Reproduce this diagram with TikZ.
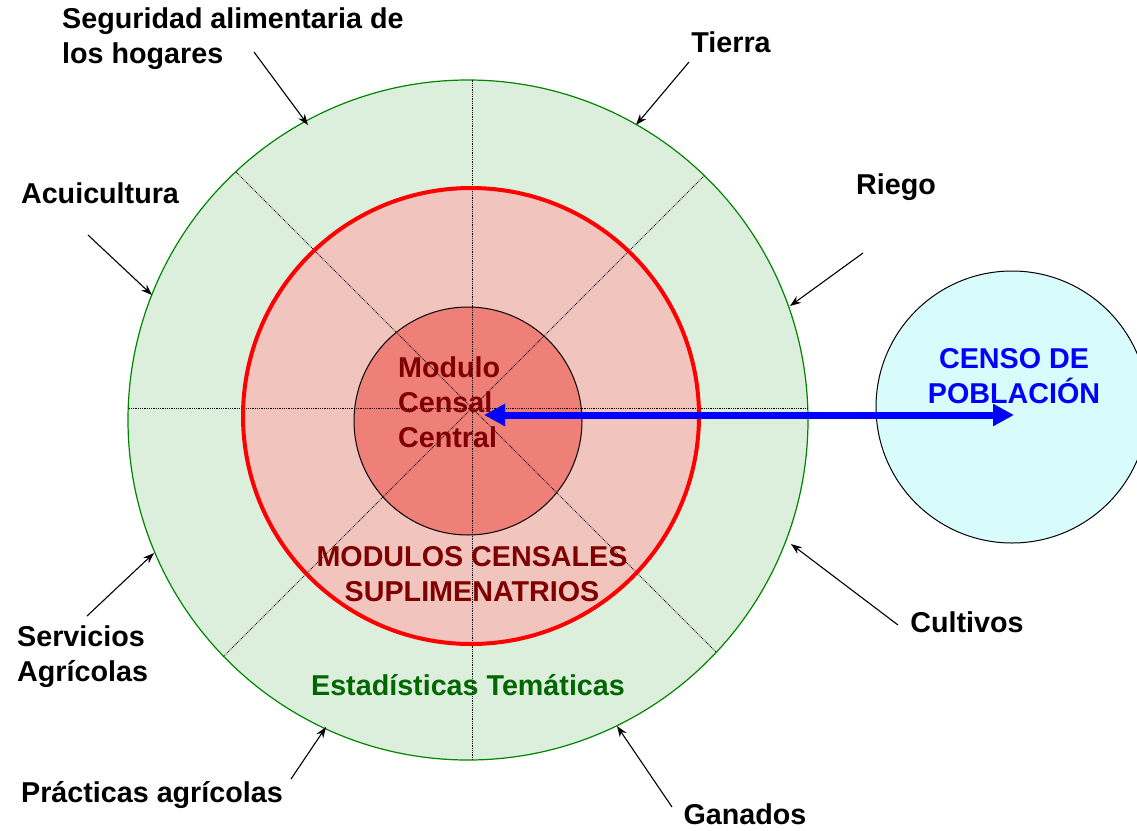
\documentclass[tikz,border=0pt]{standalone}
\usepackage{fontspec}
\setmainfont{Liberation Sans}
\usepackage{tikz}
\usetikzlibrary{arrows.meta}

\definecolor{tema}{HTML}{DCEEDC}
\definecolor{suple}{HTML}{F2C4BE}
\definecolor{central}{HTML}{EE8078}
\definecolor{censo}{HTML}{D8FCFC}
\definecolor{granate}{HTML}{800000}
\definecolor{verde}{HTML}{006600}

\tikzset{
  lbl/.style={font=\fontsize{28.7}{35}\selectfont\bfseries, inner sep=0pt},
  ptr/.style={-{Stealth[length=11pt,width=8pt]}, line width=1.1pt},
  spoke/.style={densely dotted, line width=0.8pt},
  ring/.style={circle, inner sep=0pt, outer sep=0pt}
}

\begin{document}
\begin{tikzpicture}[x=1pt,y=-1pt]

\clip (0,0) rectangle (1137,830);

% circles
\node[ring, fill=tema, draw=verde!80!green, line width=1.2pt, minimum size=680pt] (outer) at (468,420) {};
\node[ring, fill=suple, minimum size=456pt] (middle) at (471,416) {};
\node[ring, fill=central, minimum size=228pt] (inner) at (468,421) {};
\node[ring, fill=censo, draw, line width=1pt, minimum size=272pt] (pob) at (1012,407) {};

% spokes
\coordinate (hub) at (472,408);
\begin{scope}
  \clip (468,420) circle (340);
  \foreach \a in {0,45,...,315}
    \draw[spoke] (hub) -- ++(\a:360);
\end{scope}

\node[ring, draw=red, line width=4pt, minimum size=456pt] at (middle) {};
\node[ring, draw, line width=1pt, minimum size=228pt] at (inner) {};

% texts
\node[lbl, anchor=west, align=left] (seg) at (62,39) {Seguridad alimentaria de\\los hogares};
\node[lbl] (tierra) at (731,42) {Tierra};
\node[lbl] (riego) at (896,187) {Riego};
\node[lbl] (acui) at (100,193) {Acuicultura};
\node[lbl, anchor=west, align=left] (serv) at (17,657) {Servicios\\Agrícolas};
\node[lbl] (prac) at (152,795) {Prácticas agrícolas};
\node[lbl] (gan) at (745,814) {Ganados};
\node[lbl] (cult) at (967,622) {Cultivos};

\node[lbl, text=granate, anchor=west, align=left] (modulo) at (398,402) {Modulo\\Censal\\Central};
\node[lbl, text=granate, align=center] (modsup) at (472,574) {MODULOS CENSALES\\SUPLIMENATRIOS};
\node[lbl, text=verde] (estad) at (468,685) {Estadísticas Temáticas};
\node[lbl, text=blue, align=center] (censotxt) at (1014,376) {CENSO DE\\POBLACIÓN};

% pointers
\coordinate (segA) at (254,52);   \coordinate (segB) at (308,125);
\coordinate (tieA) at (689,62);   \coordinate (tieB) at (636,125);
\coordinate (rieA) at (863,253);  \coordinate (rieB) at (790,306);
\coordinate (acuA) at (88,235);   \coordinate (acuB) at (152,295);
\coordinate (serA) at (87,616);   \coordinate (serB) at (154,553);
\coordinate (praA) at (291,779);  \coordinate (praB) at (326,727);
\coordinate (ganA) at (672,807);  \coordinate (ganB) at (617,726);
\coordinate (culA) at (898,625);  \coordinate (culB) at (791,544);

\foreach \p in {seg,tie,rie,acu,ser,pra,gan,cul}
  \draw[ptr] (\p A) -- (\p B);

% link
\coordinate (linkL) at (484,415);
\coordinate (linkR) at (1014,415);
\draw[blue, line width=7pt, {Triangle[length=21pt,width=21pt]}-{Triangle[length=21pt,width=21pt]}] (linkL) -- (linkR);

\end{tikzpicture}
\end{document}
